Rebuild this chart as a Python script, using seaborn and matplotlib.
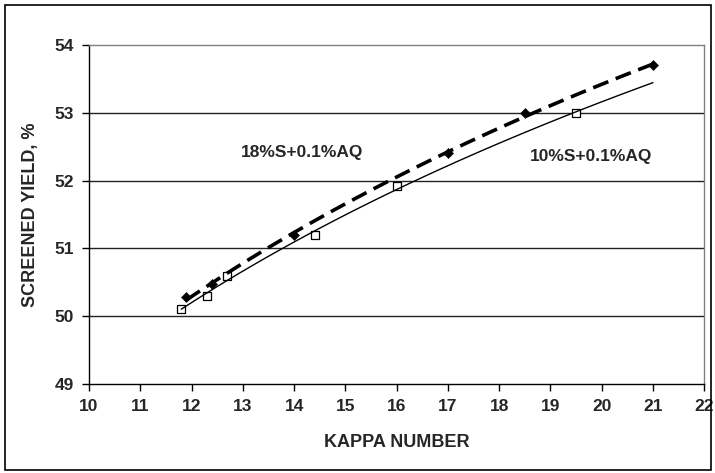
import numpy as np
import pandas as pd
import matplotlib
matplotlib.use("Agg")
import matplotlib.pyplot as plt
from matplotlib.patches import Rectangle
import seaborn as sns

# Screened yield vs kappa number for two sulfidity levels
kappa_10s = [11.8, 12.3, 12.7, 14.4, 16.0, 19.5]
yield_10s = [50.1, 50.3, 50.6, 51.2, 51.92, 53.0]

kappa_18s = [11.9, 12.4, 14.0, 17.0, 18.5, 21.0]
yield_18s = [50.28, 50.47, 51.2, 52.4, 53.0, 53.7]

trend_end = 21.0
x_ticks = list(range(10, 23))
y_ticks = [49, 50, 51, 52, 53, 54]

sns.set_theme(style="white")
plt.rcParams["font.family"] = ["Liberation Sans", "DejaVu Sans"]

fig = plt.figure(figsize=(7.15, 4.73), dpi=100)
ax = fig.add_axes([0.1245, 0.188, 0.8605, 0.717])


def log_trend(x, y, x_end):
    a, b = np.polyfit(np.log(x), y, 1)
    xs = np.linspace(min(x), x_end, 120)
    return pd.DataFrame({"x": xs, "y": a * np.log(xs) + b})


t10 = log_trend(kappa_10s, yield_10s, trend_end)
t18 = log_trend(kappa_18s, yield_18s, trend_end)

sns.lineplot(data=t10, x="x", y="y", ax=ax, color="black", lw=1.0, zorder=3)
sns.lineplot(data=t18, x="x", y="y", ax=ax, color="black", lw=2.6,
             dashes=False, zorder=4).lines[-1].set_dashes([4.5, 2.2])

sns.scatterplot(x=kappa_10s, y=yield_10s, ax=ax, marker="s", s=38,
                facecolor="white", edgecolor="black", linewidth=0.9, zorder=2)
sns.scatterplot(x=kappa_18s, y=yield_18s, ax=ax, marker="D", s=26,
                color="black", edgecolor="black", zorder=5)

ax.set_xlim(10, 22)
ax.set_ylim(49, 54)
ax.set_xticks(x_ticks)
ax.set_yticks(y_ticks)
ax.set_xticklabels([str(v) for v in x_ticks], fontsize=12.5, fontweight="bold")
ax.set_yticklabels([str(v) for v in y_ticks], fontsize=12.5, fontweight="bold")
ax.tick_params(axis="both", direction="out", length=5, width=1, color="black",
               bottom=True, left=True, pad=6)

for v in [50, 51, 52, 53]:
    ax.axhline(v, color="#222222", lw=1.0, zorder=1)

for side in ["left", "bottom"]:
    ax.spines[side].set_color("black")
    ax.spines[side].set_linewidth(1.0)
for side in ["top", "right"]:
    ax.spines[side].set_color("#808080")
    ax.spines[side].set_linewidth(1.0)

ax.set_xlabel("KAPPA NUMBER", fontsize=13, fontweight="bold", labelpad=14)
ax.set_ylabel("SCREENED YIELD, %", fontsize=13, fontweight="bold", labelpad=11)

ax.text(14.15, 52.42, "18%S+0.1%AQ", fontsize=12.5, fontweight="bold",
        ha="center", va="center")
ax.text(19.8, 52.35, "10%S+0.1%AQ", fontsize=12.5, fontweight="bold",
        ha="center", va="center")

fig.patches.append(Rectangle((0.007, 0.006), 0.988, 0.984, transform=fig.transFigure,
                             fill=False, edgecolor="black", lw=1.2))

fig.savefig("out.png", dpi=100)
